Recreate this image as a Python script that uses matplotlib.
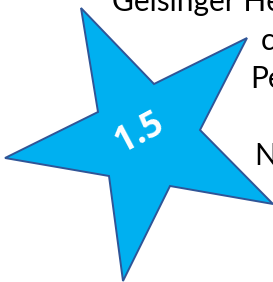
import matplotlib
matplotlib.use("Agg")
import matplotlib.pyplot as plt
from matplotlib.patches import Polygon

# Content
badge_value = "1.5"
text_lines = ["Geisinger Health", "c", "Pe", "", "N"]

W, H = 273, 282
fig = plt.figure(figsize=(W / 100, H / 100), dpi=100)
ax = fig.add_axes([0, 0, 1, 1])
ax.set_xlim(0, W)
ax.set_ylim(H, 0)
ax.axis("off")

# Background text (partly hidden by the star / clipped by the edge)
line_x = [112, 261, 250, 260, 254]
line_y = [11, 50, 88, 127, 165]
for s, x, y in zip(text_lines, line_x, line_y):
    ax.text(x, y, s, fontsize=21.5, family="Lato", color="black",
            va="baseline", ha="left", zorder=1)

# Star shape
star = [(81, 8), (154, 84), (247, 38), (200, 130), (273, 204),
        (170, 186), (123, 281), (109, 176), (5, 158), (98, 112)]
ax.add_patch(Polygon(star, closed=True, facecolor="#00B0F0",
                     edgecolor="#2F5597", linewidth=1.4, zorder=2))

ax.text(140, 133, badge_value, fontsize=25, family="Open Sans", fontweight="bold",
        color="white", rotation=28, ha="center", va="center",
        rotation_mode="anchor", zorder=3)

fig.savefig("out.png", dpi=100)
